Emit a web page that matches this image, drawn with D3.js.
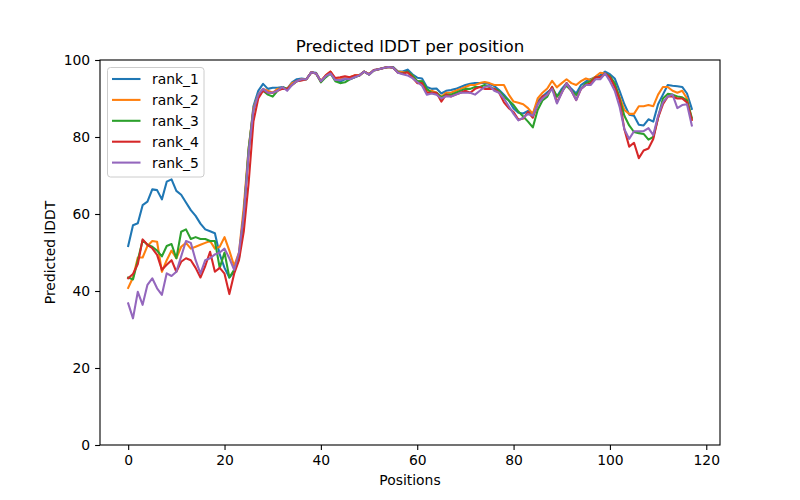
<!DOCTYPE html>
<html><head><meta charset="utf-8">
<script src="https://cdn.jsdelivr.net/npm/d3@7"></script>
<style>body{margin:0;background:#fff}svg{display:block}text{font-family:"DejaVu Sans",sans-serif;fill:#000}</style>
</head><body>
<svg id="c" width="800" height="500"></svg>
<script>
const seriesNames = ["rank_1","rank_2","rank_3","rank_4","rank_5"];
const colors = ["#1f77b4","#ff7f0e","#2ca02c","#d62728","#9467bd"];
const xTicks = [0,20,40,60,80,100,120];
const yTicks = [0,20,40,60,80,100];

const rank_1 = [51.7,57.1,57.6,62.3,63.2,66.4,66.2,63.8,68.4,69,66,65,63,61,59.5,57.5,56,55.5,55,49.5,46,43.5,45,48.5,60,76,88,92,93.8,92.5,92.8,92.8,93,92.5,94.2,95,95.2,95,96.8,96.7,94.4,95.8,96.7,94.8,94.4,95,95,95.5,96,97,96.3,97.4,97.6,97.9,98.2,98.2,97,97,97.5,96.3,95.4,95.2,93,92.5,92.6,91.3,92,92.2,92.5,93,93.5,93.8,94,94,94.1,93.8,93.2,92.2,91,89.5,87.4,86.3,86.1,86.8,86,89.2,90.5,91.6,92.6,90.5,92.5,94,92.5,91.3,93.5,94.4,95,95.5,96,97,96.3,95.2,92,88.5,85.8,85.5,83.2,83,84.6,84,88.5,91,93.5,93.3,93.2,93,91.3,87.3];
const rank_2 = [40.8,43.5,48.7,48.7,51.7,53,52.8,45,48,50.5,48.5,51.5,52.5,51,51.5,52,52.5,53,51,51.5,54,50.5,46.5,50,62,77,87.5,91,92.5,92,91.5,92.5,92.5,92.5,94,94.5,95,95,96.8,96.5,94.5,96,97,95,95,95.5,95.5,96,96,97,96.3,97.3,97.6,97.9,98.2,98,97,96.8,96.8,96,94.5,94.5,92,92,91.5,90.5,91.5,91.5,92,92.5,93,93.5,93.5,94,94.3,94,93.5,93.5,93.5,91,89.2,88.9,88.5,87.5,86,90,91.5,92.6,94.6,92.9,94,95,94,93.5,94.5,95.2,94.8,95.7,96.7,96.5,95.5,93.5,90.5,87,86,86,88,88,88.3,88,91,93,93,92,91.5,92,90,84.5];
const rank_3 = [43.5,43,48,53.2,52,51.5,50.5,49,51.7,52.2,48.5,55.4,56,53.5,54,53.5,53.5,53,53,46,50,43.5,45.5,49,60,77,87,91,92,91,90.5,92,93,92.5,93.5,94.5,94.8,95,96.8,96.5,94.2,95.5,96.5,94.5,94,94.2,95,95.5,96,97,96.2,97.3,97.6,97.9,98.2,98,96.8,96.5,97,96,94.5,94.5,92.5,91.5,91.5,90.3,91,91,91.5,92,92.5,92.5,93,93,93.5,93,92.5,92,90.5,89.5,88.3,86.6,85.3,84,82.5,87,89.5,90.5,93,90.5,92,93.3,92,90.9,92.5,94,94.5,95.5,95.5,96.5,95.8,94,90,85.5,83,81.3,81,80.8,79.3,80,85,90,91.2,91,90.5,90.3,89.5,85];
const rank_4 = [43.3,44.4,47,53.4,52,51.1,49.4,45.5,46.8,48,45,47.6,48.5,48,46,43.5,46.5,50.2,45,46,44.5,39.2,44.5,48,55.5,68,84,90,92,91.5,91.5,92,92.5,92.5,93.5,94.5,94.7,95,96.8,96.5,94.5,96,97,95.3,95.5,95.8,95.5,96,96,97,96.3,97.4,97.6,97.9,98.2,98,96.7,96.5,96.8,95.5,94,94,91.5,91.5,91.5,89.2,91,90.5,91,91.5,92,91.5,92.5,93,92.5,92.5,92.5,91.5,89,87.5,86.5,84.5,84.8,86.5,85,88.5,90.5,91,93,89,91.5,94,92,89.6,92.5,93.5,94,95.5,95.5,96.5,95.5,93,89.6,82,77.5,78.5,74.5,76.5,77,79.5,85,88.5,90.5,90.5,90,90,89,84.5];
const rank_5 = [36.8,32.9,39.8,36.4,41.6,43.3,40.7,39,44.6,43.9,45,49,53,52.5,48,44.5,48,48.5,49.5,50,51,48.5,45.5,50,60,76,87,91,92.5,91.5,91.5,92,93,92,93.5,94.5,95,95,96.8,96.5,94.5,95.8,96.5,94.8,94.8,95.2,95,95.5,96,97,96.2,97.3,97.6,97.9,98.2,98,96.7,96.3,96,95.3,94.3,93.3,91,91.3,91,90,90.6,90.5,91,91.5,91.5,91.5,91,92,93,93.3,92,91.5,90,88,86,84.3,85,86,85.5,88.5,90,91,92.5,88.7,91.5,93.9,92,89.6,92.5,93.5,93.5,95,95,96.5,94.5,92,87.9,82,79.5,81.5,81.5,81.5,82.3,80.5,85.5,89,90.5,91,87.5,88.3,88.5,83];
const allSeries = [rank_1, rank_2, rank_3, rank_4, rank_5];

const svg = d3.select("#c");
const L = 100, R = 720, T = 60, B = 445;
const n = rank_1.length;
const pad = (n - 1) * 0.05;
const x = d3.scaleLinear().domain([-pad, n - 1 + pad]).range([L, R]);
const y = d3.scaleLinear().domain([0, 100]).range([B, T]);

const line = d3.line().x((d, i) => x(i)).y(d => y(d));
allSeries.forEach((s, k) => {
  svg.append("path").datum(s).attr("d", line)
    .attr("fill", "none").attr("stroke", colors[k]).attr("stroke-width", 2.08)
    .attr("stroke-linejoin", "round").attr("stroke-linecap", "square");
});

svg.append("rect").attr("x", L).attr("y", T).attr("width", R - L).attr("height", B - T)
  .attr("fill", "none").attr("stroke", "#000").attr("stroke-width", 1.1);

const xa = svg.append("g").attr("transform", `translate(0,${B})`)
  .call(d3.axisBottom(x).tickValues(xTicks).tickSize(4.9).tickPadding(4.9).tickFormat(d3.format("d")));
const ya = svg.append("g").attr("transform", `translate(${L},0)`)
  .call(d3.axisLeft(y).tickValues(yTicks).tickSize(4.9).tickPadding(4.9).tickFormat(d3.format("d")));
[xa, ya].forEach(a => {
  a.select(".domain").remove();
  a.selectAll(".tick line").attr("stroke", "#000").attr("stroke-width", 1.1);
  a.selectAll(".tick text").attr("font-size", 13.9).attr("font-family", "DejaVu Sans").attr("fill", "#000");
});

svg.append("text").attr("x", (L + R) / 2).attr("y", 52).attr("text-anchor", "middle")
  .attr("font-size", 16.7).text("Predicted lDDT per position");
svg.append("text").attr("x", (L + R) / 2).attr("y", 485).attr("text-anchor", "middle")
  .attr("font-size", 13.9).text("Positions");
svg.append("text").attr("transform", `translate(55,${(T + B) / 2}) rotate(-90)`).attr("text-anchor", "middle")
  .attr("font-size", 13.9).text("Predicted lDDT");

const lg = svg.append("g");
lg.append("rect").attr("x", 107.5).attr("y", 67.5).attr("width", 96.5).attr("height", 109.5)
  .attr("rx", 3).attr("fill", "#fff").attr("fill-opacity", 0.8).attr("stroke", "#cccccc").attr("stroke-width", 1);
seriesNames.forEach((nm, k) => {
  const yy = 79 + k * 20.9;
  lg.append("line").attr("x1", 112).attr("x2", 140.5).attr("y1", yy).attr("y2", yy)
    .attr("stroke", colors[k]).attr("stroke-width", 2.08);
  lg.append("text").attr("x", 152).attr("y", yy).attr("dy", "0.36em").attr("font-size", 13.9).text(nm);
});
</script>
</body></html>
